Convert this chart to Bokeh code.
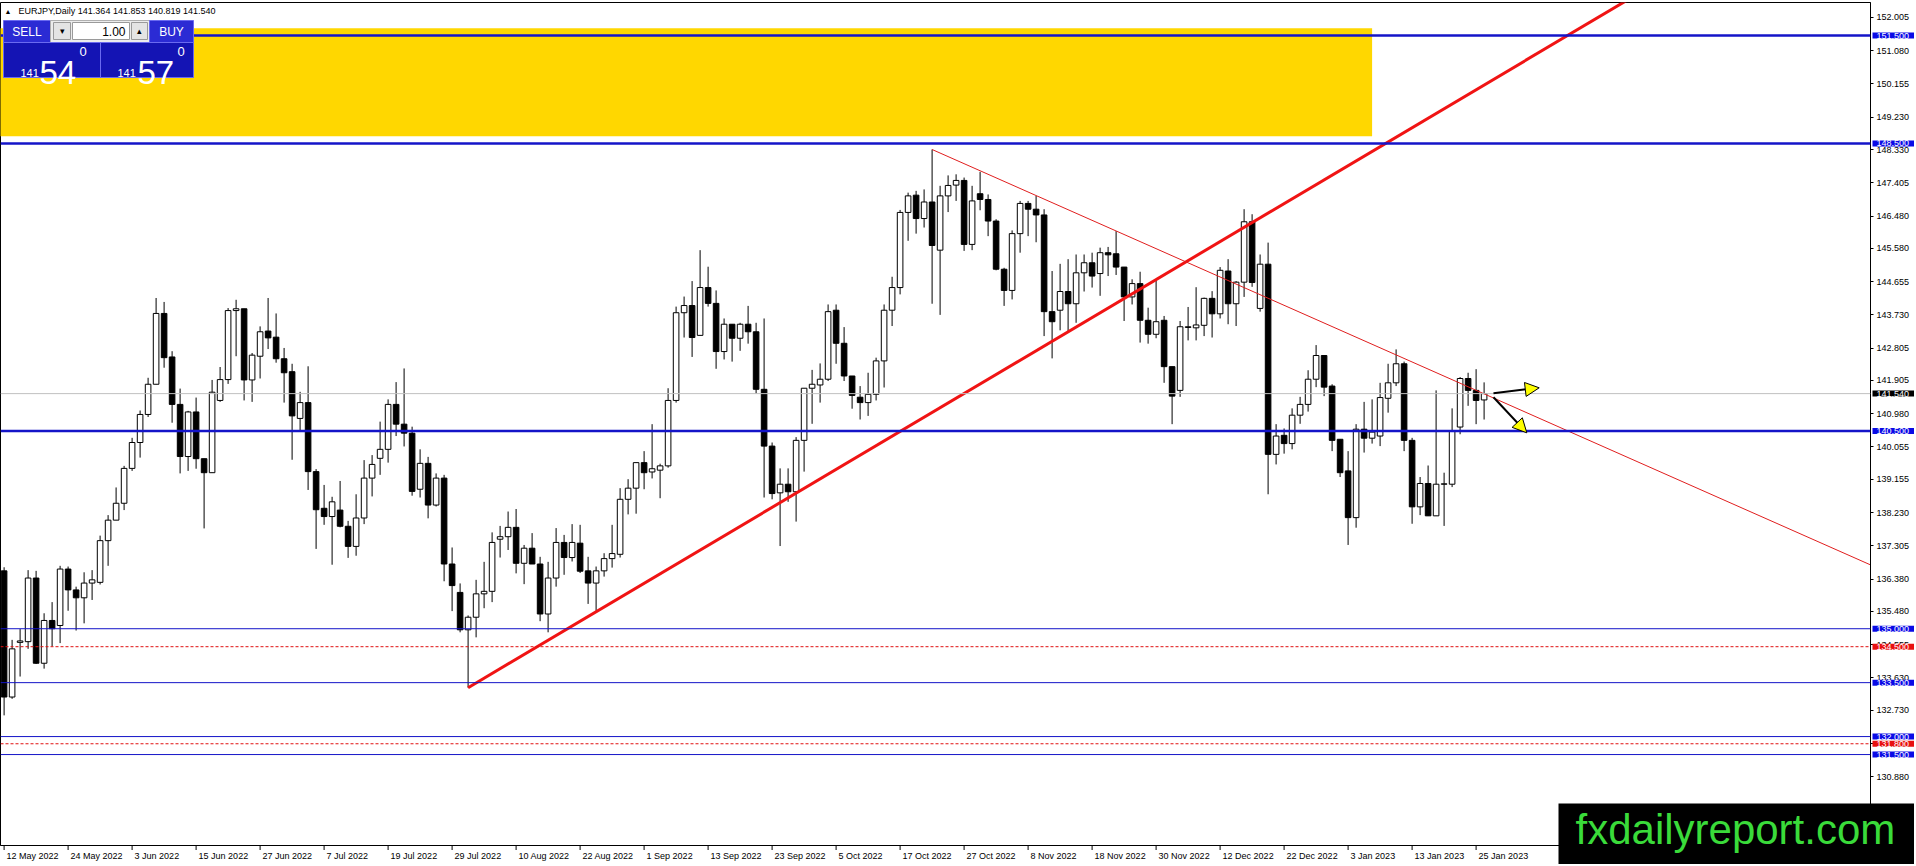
from bokeh.plotting import figure
from bokeh.models import (Range1d, FixedTicker, Span, Label, Arrow, NormalHead,
                          ColumnDataSource, NumeralTickFormatter)
from bokeh.embed import file_html
from bokeh.resources import INLINE

# ---------------- data ----------------
header_text = "EURJPY,Daily  141.364 141.853 140.819 141.540"

bar_open = [136.61, 133.10, 134.62, 134.64, 136.41, 134.04, 135.23, 135.09, 136.66, 136.08,
            135.86, 136.27, 136.29, 137.45, 138.02, 138.49, 139.46, 140.18, 140.96, 141.80,
            143.77, 142.56, 141.24, 139.79, 141.03, 139.73, 139.34, 141.35, 141.93, 143.85,
            143.90, 141.92, 142.58, 143.28, 143.11, 142.51, 142.15, 140.85, 141.29, 139.37,
            138.35, 138.12, 138.30, 137.85, 137.29, 138.08, 139.19, 139.74, 139.99, 141.24,
            140.69, 140.44, 138.88, 139.60, 138.44, 139.19, 136.80, 136.01, 134.97, 135.32,
            135.97, 136.04, 137.49, 137.56, 137.82, 136.82, 137.24, 136.80, 135.41, 136.41,
            137.40, 136.98, 137.38, 136.61, 136.27, 136.61, 136.95, 137.07, 138.60, 138.91,
            139.62, 139.36, 139.41, 139.53, 141.35, 143.79, 143.99, 143.16, 144.49, 144.05,
            142.71, 143.47, 143.08, 143.47, 143.26, 141.66, 140.08, 138.78, 139.02, 138.81,
            140.24, 141.69, 141.78, 141.94, 143.86, 142.94, 142.03, 141.44, 141.29, 141.52,
            142.45, 143.86, 144.49, 146.58, 147.06, 146.41, 146.87, 145.53, 147.04, 147.34,
            147.47, 145.69, 147.10, 146.94, 146.34, 145.00, 144.41, 145.99, 146.83, 146.67,
            146.51, 143.82, 143.86, 144.38, 144.04, 144.90, 145.18, 144.88, 145.46, 145.43,
            145.06, 144.23, 144.60, 143.58, 143.19, 143.58, 142.29, 141.63, 143.38, 143.37,
            143.44, 144.19, 143.76, 144.95, 144.04, 144.64, 146.32, 143.91, 145.14, 139.85,
            140.38, 140.15, 140.94, 141.24, 141.94, 142.60, 141.75, 140.27, 139.39, 138.09,
            140.55, 140.30, 140.36, 141.41, 141.84, 142.37, 140.24, 138.39, 139.04, 138.14,
            139.02, 139.02, 140.61, 141.96, 141.63, 141.364]
bar_high = [136.71, 134.69, 134.99, 136.63, 136.61, 135.43, 135.74, 136.75, 136.73, 136.17,
            136.57, 136.63, 137.59, 138.16, 138.93, 139.53, 140.31, 141.07, 141.98, 144.20,
            144.09, 142.72, 141.68, 141.06, 141.43, 139.73, 141.92, 142.28, 143.92, 144.15,
            143.90, 142.67, 143.41, 144.20, 143.77, 142.81, 142.37, 141.59, 142.30, 139.44,
            139.00, 138.67, 139.11, 138.00, 138.74, 139.69, 139.83, 140.76, 141.38, 141.86,
            142.24, 140.62, 139.99, 139.78, 139.32, 139.28, 137.26, 136.26, 135.37, 136.36,
            136.86, 137.68, 137.86, 138.26, 138.33, 137.33, 137.66, 137.00, 136.86, 137.80,
            137.61, 137.91, 137.89, 137.00, 136.73, 137.10, 137.89, 138.91, 139.16, 139.62,
            139.94, 140.69, 139.59, 141.69, 143.96, 144.24, 144.67, 145.53, 145.07, 144.41,
            143.63, 143.47, 143.51, 143.98, 143.51, 143.63, 140.18, 139.46, 139.46, 140.33,
            141.69, 142.20, 142.38, 144.02, 144.02, 143.39, 142.03, 141.75, 142.12, 142.54,
            144.02, 144.79, 146.65, 147.13, 147.18, 147.22, 148.33, 147.32, 147.61, 147.64,
            147.55, 147.32, 147.71, 147.08, 146.39, 145.04, 146.08, 146.90, 146.90, 147.04,
            146.67, 144.95, 145.15, 145.28, 145.41, 145.41, 145.46, 145.60, 145.62, 146.06,
            145.06, 144.72, 144.93, 143.93, 144.72, 143.70, 142.29, 143.56, 143.95, 144.50,
            144.21, 144.39, 145.06, 145.28, 144.67, 146.67, 146.53, 145.41, 145.74, 140.69,
            140.57, 141.13, 141.45, 142.19, 142.89, 142.60, 141.80, 140.27, 139.94, 140.69,
            141.31, 141.38, 141.84, 142.37, 142.77, 142.43, 140.31, 139.22, 139.54, 141.63,
            139.34, 141.13, 142.00, 142.12, 142.22, 141.853]
bar_low = [132.59, 133.05, 133.67, 134.44, 134.02, 133.89, 134.51, 134.60, 135.50, 134.95,
           135.15, 135.80, 136.23, 136.75, 138.02, 138.30, 139.39, 139.76, 140.89, 141.80,
           142.26, 140.73, 139.32, 139.39, 139.45, 137.79, 139.34, 141.31, 141.81, 142.58,
           141.35, 141.31, 141.96, 142.78, 142.40, 141.29, 139.70, 140.50, 138.86, 137.22,
           137.89, 136.78, 137.82, 136.97, 137.03, 137.91, 138.68, 139.28, 139.62, 140.36,
           140.07, 138.70, 138.65, 138.07, 138.40, 136.32, 135.49, 134.90, 133.36, 134.76,
           135.57, 135.74, 136.98, 137.19, 136.54, 136.24, 136.80, 135.21, 134.90, 136.17,
           136.50, 136.87, 136.55, 135.69, 135.50, 136.45, 136.70, 136.98, 138.18, 138.20,
           138.88, 139.18, 138.63, 139.48, 141.29, 143.10, 142.56, 143.16, 143.96, 142.23,
           142.49, 142.43, 142.73, 142.93, 141.54, 138.65, 138.60, 137.30, 138.53, 137.98,
           139.37, 140.70, 141.29, 141.89, 142.37, 141.89, 141.12, 140.82, 140.92, 141.35,
           141.71, 143.42, 144.30, 145.79, 145.99, 146.16, 144.04, 143.73, 146.59, 146.90,
           145.51, 145.53, 146.64, 145.92, 144.97, 143.98, 144.16, 145.46, 145.92, 145.75,
           143.14, 142.52, 143.30, 143.28, 143.51, 144.38, 144.49, 144.26, 144.81, 144.84,
           143.56, 144.02, 142.96, 142.93, 143.08, 141.84, 140.69, 141.45, 143.02, 143.02,
           143.14, 143.10, 143.63, 143.47, 143.42, 144.23, 144.51, 143.82, 138.74, 139.57,
           139.87, 139.99, 140.70, 141.04, 141.72, 141.47, 139.94, 139.22, 137.33, 137.81,
           139.90, 140.15, 140.08, 141.01, 141.75, 139.94, 137.92, 138.16, 138.14, 138.14,
           137.86, 138.94, 140.41, 141.20, 140.69, 140.819]
bar_close = [133.10, 134.44, 134.66, 136.41, 134.04, 135.23, 135.00, 136.66, 136.08, 135.86,
             136.27, 136.36, 137.45, 138.02, 138.49, 139.46, 140.18, 140.96, 141.80, 143.77,
             142.54, 141.24, 139.79, 141.03, 139.73, 139.34, 141.58, 141.93, 143.85, 143.90,
             141.92, 142.61, 143.26, 143.09, 142.51, 142.12, 140.92, 141.29, 139.37, 138.31,
             138.12, 138.53, 137.85, 137.29, 138.08, 139.19, 139.57, 139.99, 141.24, 140.69,
             140.44, 138.82, 139.60, 138.44, 139.19, 136.80, 136.20, 134.97, 135.32, 135.97,
             136.04, 137.40, 137.56, 137.82, 136.82, 137.24, 136.80, 135.41, 136.41, 137.40,
             136.98, 137.40, 136.60, 136.27, 136.61, 136.95, 137.09, 138.60, 138.91, 139.62,
             139.34, 139.45, 139.53, 141.35, 143.79, 143.99, 143.10, 144.49, 144.05, 142.71,
             143.47, 143.08, 143.47, 143.26, 141.66, 140.08, 138.76, 139.02, 138.81, 140.24,
             141.69, 141.80, 141.94, 143.82, 142.94, 142.03, 141.49, 141.29, 141.52, 142.45,
             143.86, 144.49, 146.58, 147.04, 146.41, 146.87, 145.66, 147.04, 147.33, 147.47,
             145.69, 146.90, 146.94, 146.34, 145.00, 144.41, 145.99, 146.83, 146.67, 146.51,
             143.82, 143.54, 144.38, 144.04, 144.90, 145.18, 144.81, 145.46, 145.40, 145.06,
             144.23, 144.60, 143.58, 143.19, 143.54, 142.29, 141.47, 143.40, 143.40, 143.45,
             144.19, 143.76, 144.97, 144.04, 144.64, 146.32, 144.63, 145.14, 139.85, 140.36,
             140.15, 140.94, 141.24, 141.94, 142.60, 141.72, 140.24, 139.34, 138.09, 140.55,
             140.30, 140.47, 141.43, 141.84, 142.37, 140.24, 138.39, 139.04, 138.14, 139.02,
             139.03, 140.50, 141.96, 141.63, 141.35, 141.540]

date_tick_bars = [0, 8, 16, 24, 32, 40, 48, 56, 64, 72, 80, 88, 96, 104, 112, 120,
                  128, 136, 144, 152, 160, 168, 176, 184]
date_tick_labels = ["12 May 2022", "24 May 2022", "3 Jun 2022", "15 Jun 2022", "27 Jun 2022",
                    "7 Jul 2022", "19 Jul 2022", "29 Jul 2022", "10 Aug 2022", "22 Aug 2022",
                    "1 Sep 2022", "13 Sep 2022", "23 Sep 2022", "5 Oct 2022", "17 Oct 2022",
                    "27 Oct 2022", "8 Nov 2022", "18 Nov 2022", "30 Nov 2022", "12 Dec 2022",
                    "22 Dec 2022", "3 Jan 2023", "13 Jan 2023", "25 Jan 2023"]

price_ticks = [152.005, 151.080, 150.155, 149.230, 148.330, 147.405, 146.480, 145.580,
               144.655, 143.730, 142.805, 141.905, 140.980, 140.055, 139.155, 138.230,
               137.305, 136.380, 135.480, 134.555, 133.630, 132.730, 131.805, 130.880]
price_tick_labels = ["152.005", "151.080", "150.155", "149.230", "148.330", "147.405",
                     "146.480", "145.580", "144.655", "143.730", "142.805", "141.905",
                     "140.980", "140.055", "139.155", "138.230", "137.305", "136.380",
                     "135.480", "134.555", "133.630", "132.730", "131.805", "130.880"]

major_levels = [151.5, 148.5, 140.5]
minor_levels = [135.0, 133.5, 132.0, 131.5]
dashed_levels = [134.5, 131.8]

zone_bottom, zone_top, zone_end_bar = 148.7, 151.7, 171

rising_trend_bars = [58, 240]
rising_trend_start, rising_trend_slope = 133.36, 0.132
falling_trend_bars = [116, 233.3]
falling_trend_start, falling_trend_slope = 148.33, -0.0985

bid_parts = ["141", "54", "0"]
ask_parts = ["141", "57", "0"]
lot_size = "1.00"
watermark = "fxdailyreport.com"

# ---------------- pixel helpers (layout only; canvas pixels from top-left) ----------------
PX0, PX_PER_BAR = 3.6, 8.0
PY_REF, PRICE_REF, PX_PER_UNIT = 430.5, 140.5, 35.95
W, H = 1914, 864
FRAME_T, FRAME_R, FRAME_B = 2, 1870, 845


def X(px):
    return (px - PX0) / PX_PER_BAR


def Y(py):
    return PRICE_REF - (py - PY_REF) / PX_PER_UNIT


# approximate advance widths (1/1000 em) of the sans font, used to start date labels at their tick
ADV = {" ": 278, ".": 278, "M": 833, "a": 556, "y": 500, "J": 500, "u": 556, "n": 556,
       "l": 222, "A": 667, "g": 556, "S": 667, "e": 556, "p": 556, "O": 778, "c": 500,
       "t": 278, "N": 722, "o": 556, "v": 500, "D": 722}


def text_w(s, size):
    return sum(ADV.get(ch, 556) for ch in s) / 1000.0 * size


FONT = "Liberation Sans"
AXIS_FS = 9
pin = {"position": "absolute", "left": "0px", "top": "0px"}

p = figure(width=W, height=H, output_backend="svg", toolbar_location=None,
           x_range=Range1d(X(0), X(FRAME_R)), y_range=Range1d(Y(FRAME_B), Y(FRAME_T)),
           y_axis_location="right", title=None,
           min_border_left=0, min_border_top=FRAME_T, min_border_right=W - FRAME_R,
           min_border_bottom=H - FRAME_B)
p.styles = pin
p.xgrid.visible = False
p.ygrid.visible = False
p.outline_line_color = "black"
p.background_fill_color = "white"
p.border_fill_color = "white"

# x axis: labels start just right of their tick (tick marks drawn on the overlay below)
label_pos = [round(b + (text_w(lab, AXIS_FS) / 2 + 2.5) / PX_PER_BAR, 3)
             for b, lab in zip(date_tick_bars, date_tick_labels)]
xa = p.xaxis[0]
xa.ticker = FixedTicker(ticks=label_pos)
xa.major_label_overrides = {t: lab for t, lab in zip(label_pos, date_tick_labels)}
xa.major_tick_in = 0
xa.major_tick_out = 0
xa.minor_tick_in = 0
xa.minor_tick_out = 0
xa.major_label_standoff = 5
xa.major_label_text_font = FONT
xa.major_label_text_font_size = f"{AXIS_FS}px"
xa.major_label_text_color = "black"
xa.axis_line_color = "black"

# y axis (right)
ya = p.yaxis[0]
ya.ticker = FixedTicker(ticks=price_ticks)
ya.formatter = NumeralTickFormatter(format="0.000")
ya.major_label_overrides = {t: lab for t, lab in zip(price_ticks, price_tick_labels)}
ya.major_tick_in = 0
ya.major_tick_out = 3
ya.minor_tick_in = 0
ya.minor_tick_out = 0
ya.major_label_standoff = 3
ya.major_label_text_font = FONT
ya.major_label_text_font_size = f"{AXIS_FS}px"
ya.major_label_text_color = "black"
ya.axis_line_color = "black"

# yellow zone
p.quad(left=[X(-20)], right=[zone_end_bar], bottom=[zone_bottom], top=[zone_top],
       fill_color="#ffd700", line_color=None)

# candles
n = len(bar_open)
idx = list(range(n))
p.segment(x0=idx, y0=bar_low, x1=idx, y1=bar_high, line_color="black", line_width=1)
is_up = [bar_close[i] >= bar_open[i] for i in idx]
up = ColumnDataSource(dict(
    x=[i for i in idx if is_up[i]],
    top=[bar_close[i] for i in idx if is_up[i]],
    bottom=[bar_open[i] for i in idx if is_up[i]]))
dn = ColumnDataSource(dict(
    x=[i for i in idx if not is_up[i]],
    top=[bar_open[i] for i in idx if not is_up[i]],
    bottom=[bar_close[i] for i in idx if not is_up[i]]))
p.vbar(x="x", top="top", bottom="bottom", width=0.7, source=up,
       fill_color="white", line_color="black", line_width=1)
p.vbar(x="x", top="top", bottom="bottom", width=0.7, source=dn,
       fill_color="black", line_color="black", line_width=1)

# trend lines
rise_y = [rising_trend_start + (b - rising_trend_bars[0]) * rising_trend_slope for b in rising_trend_bars]
p.line(rising_trend_bars, rise_y, line_color="#f01414", line_width=3)
fall_y = [falling_trend_start + (b - falling_trend_bars[0]) * falling_trend_slope for b in falling_trend_bars]
p.line(falling_trend_bars, fall_y, line_color="#e01e1e", line_width=1)

# horizontal levels
LINE_BLUE = "#1414c8"
BOX_BLUE = "#0a0ae6"
for lv in major_levels:
    p.add_layout(Span(location=lv, dimension="width", line_color=LINE_BLUE, line_width=2.5))
for lv in minor_levels:
    p.add_layout(Span(location=lv, dimension="width", line_color=LINE_BLUE, line_width=1))
for lv in dashed_levels:
    p.add_layout(Span(location=lv, dimension="width", line_color="#e01010", line_width=1,
                      line_dash="3 2"))
last_close = bar_close[-1]
p.add_layout(Span(location=last_close, dimension="width", line_color="#c0c0c0", line_width=1))

# arrows
for (x0, y0, x1, y1) in [(1493, 392.7, 1538.7, 387.3), (1493, 396.7, 1526.3, 432.3)]:
    p.add_layout(Arrow(end=NormalHead(size=14, fill_color="#ffff00", line_color="black",
                                      line_width=1),
                       x_start=X(x0), y_start=Y(y0), x_end=X(x1), y_end=Y(y1),
                       line_color="black", line_width=2))

# header
p.add_layout(Label(x=X(4), y=Y(10.5), text="▲", text_font=FONT, text_font_size="7px",
                   text_baseline="middle", text_color="black", level="overlay"))
p.add_layout(Label(x=X(18), y=Y(10.5), text=header_text, text_font=FONT, text_font_size="9px",
                   text_baseline="middle", text_color="black", level="overlay"))

# trade panel (layout boxes in pixels: left, right, top, bottom)
panel_boxes = [
    ((3, 50, 20, 42), "#2b2bd4", "#6a6af0"),
    ((50, 149, 20, 42), "#ececec", "#b0b0b0"),
    ((53, 70, 22, 39), "#e4e4e4", "#9a9a9a"),
    ((72, 129, 22, 39), "white", "#9a9a9a"),
    ((131, 147, 22, 39), "#e4e4e4", "#9a9a9a"),
    ((149, 193, 20, 42), "#2b2bd4", "#6a6af0"),
    ((3, 100, 42, 77), "#1414b4", "#6a6af0"),
    ((100, 193, 42, 77), "#1414b4", "#6a6af0"),
]
for (l, r, t, b), fc, lc in panel_boxes:
    p.quad(left=[X(l)], right=[X(r)], top=[Y(t)], bottom=[Y(b)], fill_color=fc,
           line_color=lc, line_width=1, level="overlay")


def ptext(px, py, txt, size, color="white", align="left", baseline="alphabetic"):
    p.add_layout(Label(x=X(px), y=Y(py), text=txt, text_font=FONT, text_font_size=size,
                       text_color=color, text_align=align, text_baseline=baseline,
                       level="overlay"))


ptext(26.5, 31.5, "SELL", "12px", align="center", baseline="middle")
ptext(171, 31.5, "BUY", "12px", align="center", baseline="middle")
ptext(125, 31, lot_size, "12px", color="black", align="right", baseline="middle")
ptext(61.5, 30.5, "▾", "9px", color="black", align="center", baseline="middle")
ptext(139, 30.5, "▴", "9px", color="black", align="center", baseline="middle")
ptext(20, 72, bid_parts[0], "11px")
ptext(39, 72, bid_parts[1], "33px")
ptext(79, 46, bid_parts[2], "13px", baseline="top")
ptext(117, 72, ask_parts[0], "11px")
ptext(137, 72, ask_parts[1], "33px")
ptext(177, 46, ask_parts[2], "13px", baseline="top")

# ---------------- overlay figure (same scales, whole canvas) for marks over the axes --------
q = figure(width=W, height=H, output_backend="svg", toolbar_location=None,
           x_range=Range1d(X(0), X(W)), y_range=Range1d(Y(H), Y(0)),
           x_axis_location=None, y_axis_location=None, title=None,
           min_border_left=0, min_border_right=0, min_border_top=0, min_border_bottom=0)
q.styles = pin
q.xgrid.visible = False
q.ygrid.visible = False
q.outline_line_color = None
q.background_fill_alpha = 0
q.border_fill_alpha = 0

# date tick marks below the time axis
q.segment(x0=date_tick_bars, x1=date_tick_bars, y0=[Y(FRAME_B)] * len(date_tick_bars),
          y1=[Y(FRAME_B + 4.5)] * len(date_tick_bars), line_color="black", line_width=1)


def price_box(level, fill):
    q.add_layout(Label(x=X(FRAME_R + 2), y=level, text=f"{level:.3f}", text_align="left",
                       text_baseline="middle", text_font=FONT, text_font_size=f"{AXIS_FS}px",
                       text_color="white", background_fill_color=fill,
                       padding=dict(left=4, right=6, top=0, bottom=0)))


for lv in major_levels + minor_levels:
    price_box(lv, BOX_BLUE)
for lv in dashed_levels:
    price_box(lv, "#e81010")
price_box(last_close, "black")

q.add_layout(Label(x=X(1558), y=Y(803), text=watermark, text_font=FONT, text_font_size="42px",
                   text_color="#3adb3a", text_align="left", text_baseline="top",
                   background_fill_color="black",
                   padding=dict(left=17, right=80, top=2, bottom=60)))

open("out.html", "w").write(file_html([p, q], INLINE))
